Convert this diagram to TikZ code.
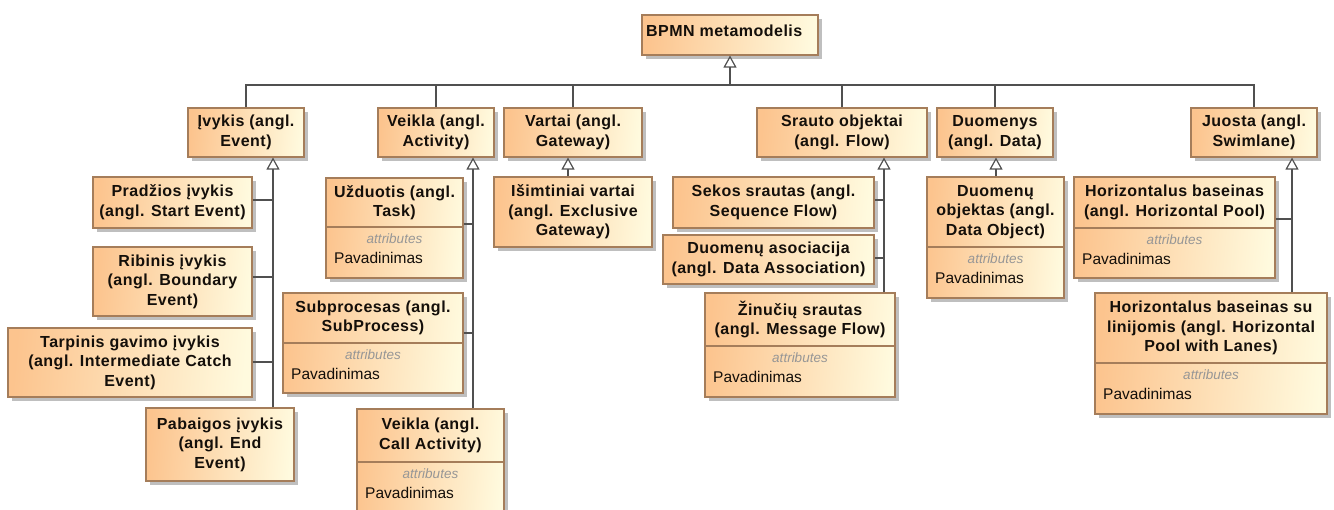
\documentclass[tikz,border=0pt]{standalone}
\usepackage{fontspec}
\setmainfont{Liberation Sans}
\newfontfamily\titlefont[LetterSpace=3]{Liberation Sans}
\usetikzlibrary{arrows.meta,shadows}

\definecolor{boxL}{RGB}{252,196,142}
\definecolor{boxR}{RGB}{255,250,222}
\definecolor{boxLine}{RGB}{165,125,90}
\definecolor{connLine}{RGB}{80,80,80}
\definecolor{inkC}{RGB}{20,15,10}
\definecolor{attrC}{RGB}{150,150,150}

\tikzset{
  umlbox/.style={draw=boxLine, line width=1.1pt, left color=boxL, right color=boxR,
    shading angle=85, inner sep=0pt, text=inkC, align=center,
    drop shadow={shadow xshift=3.5pt, shadow yshift=-3.5pt, fill=black!45, opacity=0.55},
    font=\titlefont\bfseries\fontsize{16}{19.6}\selectfont},
  titletext/.style={inner sep=0pt, text=inkC, align=center,
    font=\titlefont\bfseries\fontsize{16}{19.6}\selectfont},
  attrlabel/.style={inner sep=0pt, text=attrC, font=\itshape\fontsize{13.5}{15}\selectfont},
  attrname/.style={inner sep=0pt, text=inkC, anchor=west, font=\fontsize{15.5}{18}\selectfont},
  sepline/.style={draw=boxLine, line width=1.1pt},
  genline/.style={draw=connLine, line width=1.2pt},
  genarrow/.style={genline, -{Triangle[open, length=12pt, width=13pt, fill=white]}},
}

% class box: name, x1, y1, x2, y2, title
\newcommand\classbox[6]{%
  \node[umlbox, minimum width={#4-#2}, minimum height={#5-#3}] (#1)
    at ({(#2+#4)/2},{(#3+#5)/2}) {#6};}

% class box with an attribute compartment: name, x1, y1, x2, y2, separator y, title
\newcommand\attrbox[7]{%
  \node[umlbox, minimum width={#4-#2}, minimum height={#5-#3}] (#1)
    at ({(#2+#4)/2},{(#3+#5)/2}) {};
  \node[titletext] (#1-t) at ({(#2+#4)/2},{(#3+#6)/2}) {#7};
  \draw[sepline] (#1.west |- 0,#6) -- (#1.east |- 0,#6);
  \node[attrlabel] (#1-a) at ({(#2+#4)/2},{#6+12}) {attributes};
  \node[attrname] (#1-p) at ({#2+8},{#6+31}) {Pavadinimas};}

\begin{document}
\begin{tikzpicture}[x=1pt, y=-1pt]
\clip (0,0) rectangle (1334,509);
\fill[white] (0,0) rectangle (1334,509);

% root
\node[umlbox, minimum width=176, minimum height=40] (bpmn) at (730,35) {};
\node[titletext, anchor=west] (bpmn-t) at (646,31) {BPMN metamodelis};

% first level
\classbox{ivykis}{188}{108}{304}{157}{Įvykis (angl.\\Event)}
\classbox{veikla}{378}{108}{494}{157}{Veikla (angl.\\Activity)}
\classbox{vartai}{504}{108}{642}{157}{Vartai (angl.\\Gateway)}
\classbox{srauto}{757}{108}{927}{157}{Srauto objektai\\(angl. Flow)}
\classbox{duomenys}{937}{108}{1053}{157}{Duomenys\\(angl. Data)}
\classbox{juosta}{1191}{108}{1317}{157}{Juosta (angl.\\Swimlane)}

% events
\classbox{pradzios}{93}{177}{252}{228}{Pradžios įvykis\\(angl. Start Event)}
\classbox{ribinis}{93}{247}{252}{316}{Ribinis įvykis\\(angl. Boundary\\Event)}
\classbox{tarpinis}{8}{328}{252}{397}{Tarpinis gavimo įvykis\\(angl. Intermediate Catch\\Event)}
\classbox{pabaigos}{146}{408}{294}{481}{Pabaigos įvykis\\(angl. End\\Event)}

% activities
\attrbox{uzduotis}{326}{178}{463}{278}{227}{Užduotis (angl.\\Task)}
\attrbox{subproc}{283}{293}{463}{393}{343}{Subprocesas (angl.\\SubProcess)}
\attrbox{callact}{357}{409}{504}{514}{462}{Veikla (angl.\\Call Activity)}

% gateway
\classbox{isimt}{494}{177}{652}{247}{Išimtiniai vartai\\(angl. Exclusive\\Gateway)}

% flows
\classbox{sekos}{673}{177}{874}{228}{Sekos srautas (angl.\\Sequence Flow)}
\classbox{asoc}{663}{235}{874}{284}{Duomenų asociacija\\(angl. Data Association)}
\attrbox{zinuciu}{705}{293}{895}{397}{346}{Žinučių srautas\\(angl. Message Flow)}

% data
\attrbox{duomobj}{927}{177}{1064}{298}{247}{Duomenų\\objektas (angl.\\Data Object)}

% swimlanes
\attrbox{hpool}{1074}{177}{1275}{278}{228}{Horizontalus baseinas\\(angl. Horizontal Pool)}
\attrbox{hlanes}{1095}{293}{1327}{414}{363}{Horizontalus baseinas su\\linijomis (angl. Horizontal\\Pool with Lanes)}

% generalisation tree below the root
\coordinate (topbus) at (0,85);
\draw[genline] (ivykis.north) -- (ivykis.north |- topbus) -- (juosta.north |- topbus) -- (juosta.north);
\foreach \n in {veikla,vartai,srauto,duomenys}
  \draw[genline] (\n.north) -- (\n.north |- topbus);
\draw[genarrow] (bpmn.south |- topbus) -- (bpmn.south);

% events
\coordinate (evbus) at (273,0);
\draw[genarrow] (pabaigos.north -| evbus) -- (ivykis.south -| evbus);
\draw[genline] (pradzios.east |- 0,200) -- (evbus |- 0,200);
\draw[genline] (ribinis.east |- 0,277) -- (evbus |- 0,277);
\draw[genline] (tarpinis.east |- 0,362) -- (evbus |- 0,362);

% activities
\coordinate (acbus) at (473,0);
\draw[genarrow] (callact.north -| acbus) -- (veikla.south -| acbus);
\draw[genline] (uzduotis.east |- 0,224) -- (acbus |- 0,224);
\draw[genline] (subproc.east |- 0,333) -- (acbus |- 0,333);

% gateway
\coordinate (gwbus) at (568,0);
\draw[genarrow] (isimt.north -| gwbus) -- (vartai.south -| gwbus);

% flows
\coordinate (flbus) at (884,0);
\draw[genarrow] (zinuciu.north -| flbus) -- (srauto.south -| flbus);
\draw[genline] (sekos.east |- 0,200) -- (flbus |- 0,200);
\draw[genline] (asoc.east |- 0,258) -- (flbus |- 0,258);

% data
\coordinate (dabus) at (996,0);
\draw[genarrow] (duomobj.north -| dabus) -- (duomenys.south -| dabus);

% swimlanes
\coordinate (swbus) at (1292,0);
\draw[genarrow] (hlanes.north -| swbus) -- (juosta.south -| swbus);
\draw[genline] (hpool.east |- 0,219) -- (swbus |- 0,219);
\end{tikzpicture}
\end{document}
